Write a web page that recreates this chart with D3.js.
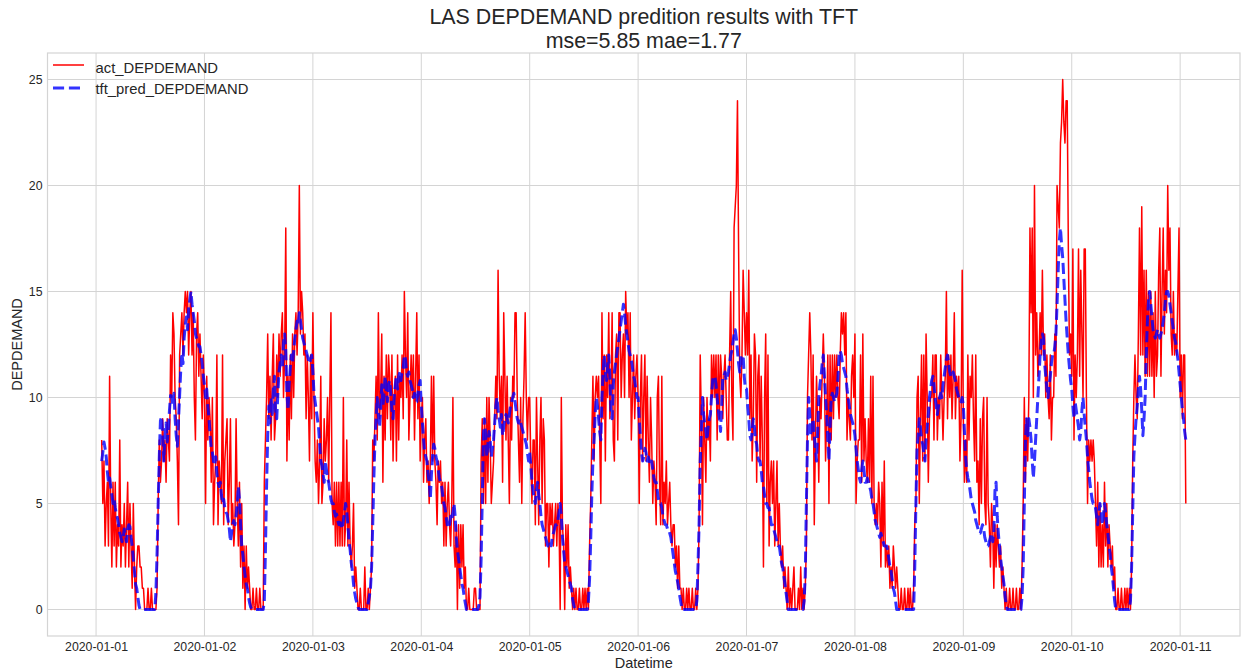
<!DOCTYPE html>
<html><head><meta charset="utf-8">
<script src="https://cdn.jsdelivr.net/npm/d3@7"></script>
<style>body{margin:0;background:#fff;} svg{display:block;font-family:"Liberation Sans",Arial,sans-serif;}</style>
</head><body><svg id="chart" width="1244" height="671"></svg>
<script>
// ---------- data ----------
const titleLines = ["LAS DEPDEMAND predition results with TFT", "mse=5.85 mae=1.77"];
const seriesNames = ["act_DEPDEMAND", "tft_pred_DEPDEMAND"];
const seriesStart = "2020-01-01T01:15:00Z";   // first sample, 15-minute steps
const stepMinutes = 15;
const xTickLabels = ["2020-01-01","2020-01-02","2020-01-03","2020-01-04","2020-01-05","2020-01-06","2020-01-07","2020-01-08","2020-01-09","2020-01-10","2020-01-11"];
const yTickValues = [0, 5, 10, 15, 20, 25];

// actual demand, one array per calendar day
const act_0101 = [8,5,7, 3,5,6,3, 11,5,2,6, 3,6,2,4, 3,8,2,4, 3,5,2,4, 6,2,5,3, 1,5,2,0, 2,3,3,2, 2,1,1,0, 0,0,1,0, 0,1,0,0, 0,0,1,5, 8,6,7,9, 7,8,6,9, 8,7,12,10, 14,13,10,9, 7,4,12,13, 14,12,14,15, 14,15,12,14, 15,12,14,10, 8,13,14,11, 13,11,9,12];
const act_0102 = [10,5,11,8, 10,9,6,10, 4,6,7,12, 4,7,6,5, 12,4,7,8, 9,4,6,9, 4,5,3,4, 9,5,3,6, 2,5,1,3, 0,3,1,2, 1,0,0,1, 0,0,1,0, 0,1,0,0, 0,6,8,10, 13,9,11,8, 11,13,8,9, 12,10,13,11, 13,14,10,12, 18,7,11,8, 12,9,13,10, 13,14,12,14, 20,13,15,14, 12,13,9,12, 10,7,12,9];
const act_0103 = [14,10,7,6, 8,5,7,11, 5,6,9,7, 8,10,6,10, 14,5,4,6, 3,6,3,6, 3,6,3,10, 3,4,8,3, 6,3,2,3, 5,1,2,1, 0,0,1,0, 0,0,2,0, 0,1,0,1, 2,8,7,9, 11,8,14,9, 10,13,6,11, 8,12,9,12, 11,8,12,7, 10,11,7,12, 8,11,10,12, 9,15,12,10, 14,8,10,12, 10,12,8,11, 14,9,12,7];
const act_0104 = [9,10,6,8, 9,6,7,5, 7,11,7,11, 7,6,4,7, 6,7,5,6, 3,6,3,5, 6,4,3,5, 10,3,2,4, 0,4,1,4, 2,4,1,2, 0,0,1,0, 0,0,0,1, 1,0,0,0, 0,7,9,5, 9,5,10,6, 10,8,5,6, 7,9,11,9, 16,11,9,11, 6,14,11,8, 11,8,5,10, 8,11,10,14, 14,10,8,6, 10,5,9,11, 14,10,8,10];
const act_0105 = [10,7,5,8, 8,4,10,7, 4,8,10,5, 9,8,3,5, 5,2,5,4, 5,3,4,5, 3,5,4,0, 10,4,3,0, 4,2,4,1, 2,1,0,1, 0,1,0,0, 1,0,0,1, 0,1,0,1, 0,3,5,8, 11,7,10,11, 10,11,8,5, 14,9,12,7, 12,10,14,9, 10,14,8,7, 12,13,8,14, 14,10,12,13, 10,15,13,14, 10,14,8,10, 12,9,11,12];
const act_0106 = [10,5,10,12, 7,10,12,7, 11,8,6,10, 8,5,7,6, 4,10,11,6, 4,11,4,6, 5,7,4,5, 6,4,3,4, 4,2,3,1, 3,1,1,0, 1,0,0,1, 0,1,0,0, 1,0,0,1, 0,1,4,12, 9,4,10,8, 6,10,8,9, 7,12,10,12, 10,12,8,12, 9,12,11,9, 11,12,10,8, 8,12,15,10, 8,18,19,20, 24,17,11,10, 12,16,14,12];
const act_0107 = [14,12,16,9, 12,7,9,13, 12,6,11,12, 7,11,8,2, 10,13,5,12, 3,6,7,5, 7,3,5,7, 3,5,3,2, 3,1,2,1, 0,2,0,1, 0,1,2,0, 0,0,1,0, 2,0,1,0, 1,3,10,12, 14,12,8,12, 4,8,11,9, 6,10,9,11, 13,11,7,9, 12,5,12,8, 12,9,12,10, 12,10,9,12, 14,13,14,12, 14,8,10,9, 8,11,12,10];
const act_0108 = [13,5,7,8, 8,12,6,13, 7,9,7,6, 9,6,11,5, 11,5,4,5, 4,6,5,2, 6,3,7,2, 3,2,3,1, 2,1,3,2, 1,2,1,0, 0,1,0,0, 1,0,0,1, 0,1,0,0, 1,4,5,10, 11,5,9,12, 7,12,7,13, 10,6,9,10, 10,12,8,12, 12,8,10,9, 12,10,8,10, 11,15,9,12, 10,12,9,11, 14,9,11,10, 11,7,9,16];
const act_0109 = [9,6,8,6, 12,8,11,10, 12,9,7,12, 6,7,4,9, 5,9,10,5, 4,10,5,4, 2,5,4,1, 4,2,4,3, 2,3,1,2, 1,0,1,0, 0,1,0,0, 1,0,0,1, 0,0,1,0, 2,5,10,6, 9,7,10,18, 14,18,10,20, 12,14,11,12, 14,12,16,12, 13,10,12,10, 9,12,8,10, 10,13,11,20, 19,18,22,23, 25,23,22,24, 24,17,12,13];
const act_0110 = [11,17,8,12, 10,12,17,11, 16,13,10,17, 17,10,5,8, 7,8,7,8, 7,5,3,6, 2,5,2,4, 2,6,3,5, 2,4,3,2, 3,1,2,0, 0,1,0,0, 1,0,0,1, 0,1,0,1, 0,2,7,10, 12,10,9,13, 18,12,19,12, 16,11,16,11, 15,11,15,11, 14,10,15,11, 12,16,18,11, 15,18,13,16, 14,20,16,18, 13,12,15,12, 13,12,15,18];
const act_0111 = [10,12,9,12,12,5];

// TFT prediction, one array per calendar day
const pred_0101 = [7.0,7.4,7.9, 7.6,7.2,6.5,6.0, 6.2,5.8,5.4,5.0, 5.2,4.8,4.5,4.3, 4.0,3.6,3.4,3.2, 3.4,3.8,3.5,3.2, 3.8,4.0,3.9,3.4, 3.0,2.4,1.8,1.2, 1.0,0.6,0.2,0, 0,0,0,0, 0,0,0,0, 0,0,0,0, 0,0.8,2.6,5.0, 7.2,8.9,9.1,8.3, 7.0,8.2,8.8,7.9, 8.5,9.4,10.1,10.0, 9.6,10.2,9.0,8.2, 7.7,8.9,10.1,11.3, 12.1,11.6,12.8,13.4, 13.8,13.2,14.2,14.6, 15.0,14.4,14.0,13.6, 13.0,12.8,12.6,12.4, 12.4,12.0,11.6,11.0];
const pred_0102 = [10.6,10.0,10.4,9.6, 9.0,8.2,7.6,7.4, 7.0,6.8,7.2,6.4, 6.0,5.8,6.0,5.4, 5.0,5.2,4.8,4.6, 4.5,4.2,3.8,3.2, 3.6,4.0,4.2,4.0, 4.4,5.0,5.8,5.2, 4.0,3.0,2.6,2.0, 1.6,1.2,1.0,0.6, 0.3,0.1,0,0, 0,0,0,0, 0,0,0,0, 0,0.4,2.8,5.8, 8.2,9.6,8.8,10.0, 9.2,10.4,11.0,9.4, 9.0,10.2,11.2,11.6, 12.0,11.4,12.6,13.0, 12.2,10.2,9.4,10.6, 11.4,12.0,11.6,12.2, 12.8,13.2,13.6,13.4, 14.0,13.6,13.2,12.8, 12.6,12.4,12.2,12.0, 11.8,11.6,11.8,12.0];
const pred_0103 = [11.2,10.2,9.8,9.4, 9.0,8.6,7.8,7.0, 6.8,6.4,6.0,7.0, 6.6,6.2,6.0,5.6, 5.2,5.0,5.0,4.6, 4.4,4.5,4.2,4.0, 4.1,4.0,3.8,4.2, 4.6,5.0,4.6,4.0, 3.2,2.8,2.2,1.8, 1.2,0.8,0.5,0.3, 0.1,0,0,0, 0,0,0,0, 0,0.3,0.6,1.0, 2.0,4.0,6.2,8.0, 9.0,10.0,9.2,8.6, 9.4,10.6,9.6,10.2, 11.0,10.4,9.8,10.6, 10.8,10.2,9.4,9.0, 10.0,10.6,11.0,10.4, 11.0,11.2,10.8,11.2, 11.4,12.0,11.8,11.2, 11.0,11.2,10.8,10.6, 10.4,10.0,10.2,9.8, 9.8,10.2,10.6,10.8];
const pred_0104 = [9.6,8.8,8.0,7.4, 7.2,7.0,6.4,6.0, 5.2,6.4,7.2,7.8, 7.6,7.2,7.0,6.6, 6.2,6.0,5.8,5.4, 5.0,4.8,4.4,4.0, 4.2,4.0,4.4,4.2, 4.6,5.0,4.4,3.4, 2.8,2.4,2.0,1.6, 1.2,1.0,0.6,0.3, 0,0,0,0, 0,0,0,0, 0,0,0,0.2, 0.6,2.4,5.2,8.2, 9.0,8.2,7.2,7.8, 8.4,8.0,7.2,7.6, 8.0,8.8,9.6,10.0, 9.4,9.0,8.6,9.2, 8.2,8.6,9.0,9.2, 9.0,8.8,9.2,9.6, 9.8,10.0,10.2,9.8, 9.4,9.0,8.8,9.0, 8.8,8.6,8.4,8.2, 8.0,7.8,7.4,7.0];
const pred_0105 = [7.4,6.8,6.0,5.6, 5.2,5.0,5.6,6.0, 5.4,5.0,4.4,4.0, 3.8,3.6,3.4,3.2, 3.0,3.0,3.2,3.0, 3.4,3.6,3.8,4.0, 4.0,4.2,4.6,5.0, 4.4,3.4,2.8,2.2, 2.0,1.8,1.6,1.4, 1.2,1.0,0.5,0.2, 0,0,0,0, 0,0,0,0, 0,0,0,0, 0.4,1.4,3.2,5.4, 7.0,8.0,9.2,10.0, 9.6,9.0,8.4,8.0, 10.0,11.2,12.0,11.2, 10.8,11.4,12.0,11.0, 9.4,9.0,10.6,11.2, 11.6,12.0,12.4,12.8, 13.2,13.6,14.0,14.4, 14.0,13.4,13.0,12.6, 12.2,12.0,11.8,11.4, 11.0,10.8,10.4,10.0];
const pred_0106 = [10.0,9.0,8.2,7.4, 7.0,7.2,7.6,7.4, 7.0,7.2,7.0,6.8, 7.0,6.6,6.2,6.0, 6.0,5.6,5.2,5.0, 5.0,4.8,4.4,4.2, 4.0,4.0,3.8,3.8, 3.6,3.4,3.0,2.6, 2.2,1.8,1.6,1.3, 1.0,0.6,0.3,0, 0,0,0,0, 0,0,0,0, 0,0,0,0, 0.4,2.0,4.0,7.0, 8.4,10.0,9.2,8.8, 8.4,8.0,8.6,9.0, 9.2,10.0,10.8,11.0, 11.0,10.6,10.0,9.4, 9.0,8.4,9.6,11.0, 11.0,11.2,10.8,11.0, 11.2,11.6,12.0,12.2, 12.6,13.0,13.2,12.8, 12.2,11.6,11.2,12.0, 11.6,12.0,11.0,10.4];
const pred_0107 = [10.4,9.6,9.0,8.2, 8.0,8.4,9.0,8.6, 8.0,7.8,7.2,7.0, 7.0,6.6,6.0,5.8, 5.4,5.0,5.0,4.8, 4.8,4.4,4.0,4.0, 3.8,3.6,3.4,3.2, 3.0,3.0,2.6,2.2, 2.0,1.6,1.2,0.8, 0.4,0,0,0, 0,0,0,0, 0,0,0,0, 0,0,0,0.4, 1.6,5.0,8.0,10.0, 9.2,8.2,8.6,9.0, 8.2,7.6,7.0,8.4, 10.0,10.6,11.0,11.6, 12.0,11.0,10.0,9.2, 8.0,7.0,8.6,10.0, 10.2,10.0,9.8,10.0, 10.2,11.0,12.0,12.2, 12.0,11.6,11.4,11.2, 11.0,10.4,10.0,9.6, 9.2,9.0,8.8,8.6];
const pred_0108 = [8.2,7.6,7.0,6.6, 6.2,6.0,6.6,7.0, 6.6,6.0,6.0,6.2, 6.0,5.8,5.6,5.2, 5.0,4.6,4.2,4.0, 3.8,3.6,3.4,3.6, 3.4,3.2,3.0,3.0, 3.0,2.8,2.4,2.0, 1.8,1.4,1.0,0.8, 0.4,0,0,0, 0,0,0,0, 0,0,0,0, 0,0,0,0, 0,2.0,5.0,7.6, 8.2,9.0,8.6,8.0, 7.8,7.4,7.0,8.0, 8.6,9.2,10.0,10.4, 10.8,11.0,10.6,10.0, 9.6,9.2,9.6,10.0, 10.2,10.0,10.6,11.0, 11.4,11.8,12.0,11.6, 11.2,11.0,11.0,11.2, 11.0,10.8,10.4,10.2, 10.0,10.0,9.8,10.0];
const pred_0109 = [9.6,8.4,7.2,6.6, 6.2,6.0,5.6,5.2, 5.0,4.8,4.6,4.2, 4.0,3.8,3.6,3.6, 3.8,4.0,3.8,3.4, 3.2,3.0,3.0,3.2, 3.4,3.6,3.2,3.6, 5.6,6.0,4.4,3.6, 3.0,2.4,2.0,1.6, 1.2,0.6,0.2,0, 0,0,0,0, 0,0,0,0, 0,0,0,0, 0.6,2.0,5.0,8.0, 9.0,8.2,9.0,8.6, 8.0,7.0,6.2,7.0, 8.0,9.0,10.0,11.0, 12.0,12.6,13.0,12.8, 11.6,11.0,10.4,10.0, 10.6,11.0,11.6,12.0, 12.0,12.4,13.0,14.4, 16.0,17.4,18.0,17.2, 16.6,15.6,14.6,13.6, 12.8,12.0,11.4,10.8];
const pred_0110 = [10.4,9.6,9.0,9.8, 9.4,9.0,8.6,8.0, 8.4,9.4,10.0,9.2, 8.6,8.0,7.2,6.6, 6.0,5.6,5.2,5.0, 5.0,4.8,4.4,4.0, 4.6,5.0,4.6,4.0, 4.4,5.0,4.6,4.0, 3.6,3.0,2.6,2.0, 1.6,1.0,0.4,0, 0,0,0,0, 0,0,0,0, 0,0,0,0, 0.4,2.0,4.6,7.2, 8.2,9.0,9.6,10.4, 11.0,10.4,9.4,8.2, 9.0,10.0,12.0,13.6, 14.6,15.0,14.4,13.8, 13.2,13.0,12.8,13.0, 13.2,13.0,12.8,13.0, 13.2,13.6,14.0,14.6, 15.0,15.0,14.8,14.4, 14.0,13.6,13.2,12.8, 12.6,12.2,11.8,11.2];
const pred_0111 = [10.6,10.0,9.4,9.0,8.4,8.0];

// ---------- build ----------
const actual = [].concat(act_0101, act_0102, act_0103, act_0104, act_0105, act_0106, act_0107, act_0108, act_0109, act_0110, act_0111);
const predicted = [].concat(pred_0101, pred_0102, pred_0103, pred_0104, pred_0105, pred_0106, pred_0107, pred_0108, pred_0109, pred_0110, pred_0111);
const t0 = new Date(seriesStart);
const times = actual.map((_, i) => d3.utcMinute.offset(t0, i * stepMinutes));
const rows = times.map((t, i) => ({t, a: actual[i], p: predicted[i]}));

const svg = d3.select("#chart");
const L = 47.5, R = 1240, T = 53, B = 636;
const tMin = times[0], tMax = times[times.length - 1];
const pad = (tMax - tMin) * 0.05;
const x = d3.scaleUtc().domain([new Date(+tMin - pad), new Date(+tMax + pad)]).range([L, R]);
const yMax = d3.max(actual.concat(predicted)), yMin = 0;
const yPad = (yMax - yMin) * 0.05;
const y = d3.scaleLinear().domain([yMin - yPad, yMax + yPad]).range([B, T]);
const textCol = "#262626", gridCol = "#d4d4d4";

const xTicks = xTickLabels.map(s => new Date(s + "T00:00:00Z"));

// grid
const g = svg.append("g");
g.selectAll(".vg").data(xTicks).join("line")
  .attr("x1", d => x(d)).attr("x2", d => x(d)).attr("y1", T).attr("y2", B)
  .attr("stroke", gridCol).attr("stroke-width", 1);
g.selectAll(".hg").data(yTickValues).join("line")
  .attr("x1", L).attr("x2", R).attr("y1", d => y(d)).attr("y2", d => y(d))
  .attr("stroke", gridCol).attr("stroke-width", 1);
svg.append("rect").attr("x", L).attr("y", T).attr("width", R - L).attr("height", B - T)
  .attr("fill", "none").attr("stroke", gridCol).attr("stroke-width", 1.2);

// axes (tick labels only, whitegrid style)
const xAxis = d3.axisBottom(x).tickValues(xTicks).tickFormat(d3.utcFormat("%Y-%m-%d")).tickSize(0).tickPadding(6);
const xg = svg.append("g").attr("transform", `translate(0,${B})`).call(xAxis);
const yAxis = d3.axisLeft(y).tickValues(yTickValues).tickSize(0).tickPadding(5);
const yg = svg.append("g").attr("transform", `translate(${L},0)`).call(yAxis);
[xg, yg].forEach(a => {
  a.select(".domain").remove();
  a.selectAll("text").attr("fill", textCol).style("font-size", "12.3px").style("font-family", '"Liberation Sans", Arial, sans-serif');
});

// lines
const lineA = d3.line().x(d => x(d.t)).y(d => y(d.a));
const lineP = d3.line().x(d => x(d.t)).y(d => y(d.p));
svg.append("path").datum(rows).attr("d", lineA).attr("fill", "none")
  .attr("stroke", "#ff0000").attr("stroke-width", 1.5).attr("stroke-linejoin", "round");
svg.append("path").datum(rows).attr("d", lineP).attr("fill", "none")
  .attr("stroke", "#0000ff").attr("stroke-opacity", 0.8).attr("stroke-width", 3)
  .attr("stroke-dasharray", "11.1,4.8").attr("stroke-linejoin", "round");

// title
svg.append("text").attr("x", (L + R) / 2).attr("y", 24).attr("text-anchor", "middle")
  .attr("fill", textCol).style("font-size", "21.4px").text(titleLines[0]);
svg.append("text").attr("x", (L + R) / 2).attr("y", 48).attr("text-anchor", "middle")
  .attr("fill", textCol).style("font-size", "21.4px").text(titleLines[1]);

// axis labels
svg.append("text").attr("x", (L + R) / 2).attr("y", 668).attr("text-anchor", "middle")
  .attr("fill", textCol).style("font-size", "14.5px").text("Datetime");
svg.append("text").attr("transform", `translate(22,${(T + B) / 2}) rotate(-90)`).attr("text-anchor", "middle")
  .attr("fill", textCol).style("font-size", "14.5px").text("DEPDEMAND");

// legend
const leg = svg.append("g");
const legItems = [
  {name: seriesNames[0], color: "#ff0000", w: 1.5, dash: null, op: 1, ly: 65, ty: 68},
  {name: seriesNames[1], color: "#0000ff", w: 3, dash: "11.1,4.8", op: 0.8, ly: 88, ty: 89}
];
legItems.forEach(it => {
  leg.append("line").attr("x1", 53).attr("x2", 84).attr("y1", it.ly).attr("y2", it.ly)
    .attr("stroke", it.color).attr("stroke-width", it.w).attr("stroke-opacity", it.op)
    .attr("stroke-dasharray", it.dash);
  leg.append("text").attr("x", 95.5).attr("y", it.ty).attr("dy", "0.35em")
    .attr("fill", textCol).style("font-size", "14.8px").text(it.name);
});
</script></body></html>
